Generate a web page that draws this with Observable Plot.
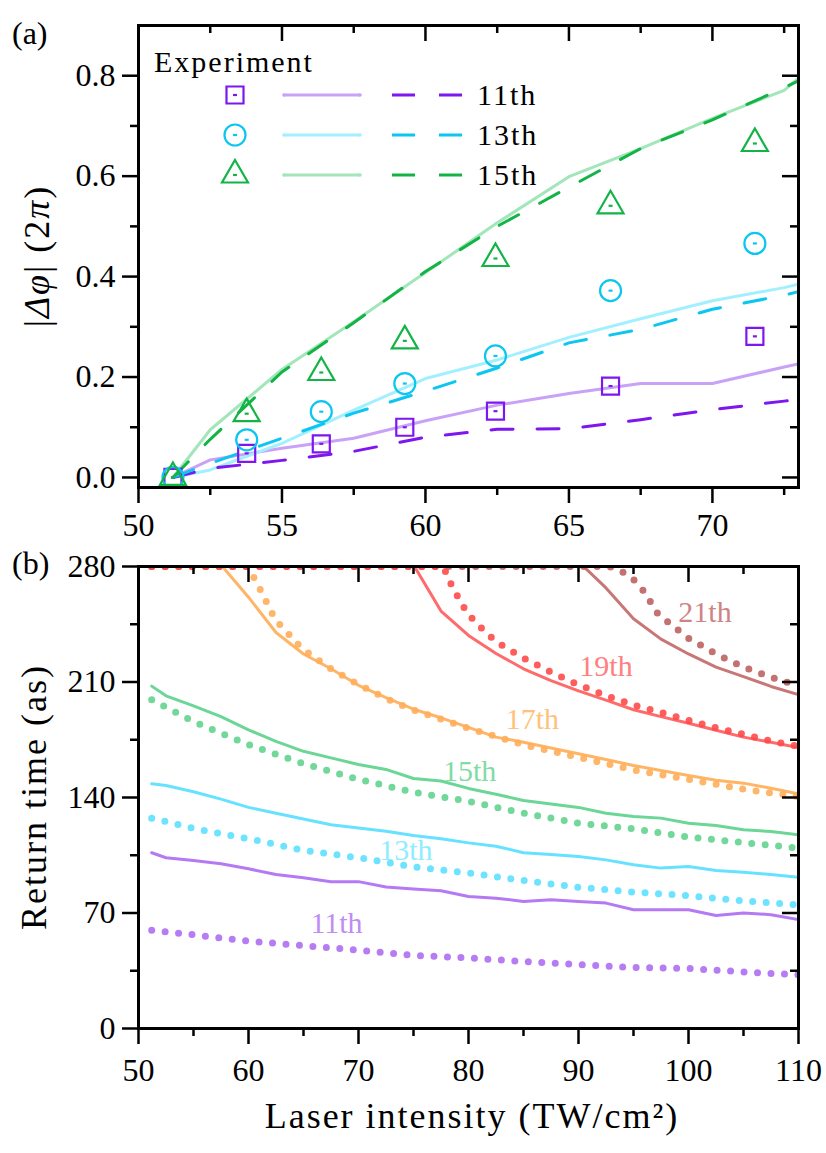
<!DOCTYPE html>
<html>
<head>
<meta charset="utf-8">
<script src="https://cdn.jsdelivr.net/npm/d3@7"></script>
<script src="https://cdn.jsdelivr.net/npm/@observablehq/plot@0.6"></script>
<style>
  html, body { margin: 0; padding: 0; background: #fff; }
  #chart { width: 826px; height: 1153px; position: relative; }
  #chart svg { display: block; }
</style>
</head>
<body>
<div id="chart"></div>
<script>
// ---------------- DATA ----------------
// Panel (a): phase difference |Δφ| (2π) vs laser intensity (TW/cm²)
const harmonicsA = ["11th", "13th", "15th"];
const expIntensity = [51.2, 53.77, 56.37, 59.28, 62.44, 66.45, 71.48];
const exp11 = [0, 0.048, 0.067, 0.100, 0.132, 0.182, 0.281];
const exp13 = [0, 0.075, 0.131, 0.187, 0.242, 0.372, 0.466];
const exp15 = [0, 0.127, 0.209, 0.272, 0.436, 0.541, 0.665];

const thIntensity = [51.2, 52.5, 55, 57.5, 60, 62.5, 65, 67.5, 70, 72.5, 73];
const solid11  = [0, 0.035, 0.058, 0.078, 0.113, 0.144, 0.167, 0.187, 0.187, 0.220, 0.226];
const dashed11 = [0, 0.018, 0.034, 0.052, 0.080, 0.096, 0.097, 0.115, 0.135, 0.152, 0.155];
const solid13  = [0, 0.015, 0.068, 0.134, 0.197, 0.234, 0.279, 0.316, 0.352, 0.378, 0.385];
const dashed13 = [0, 0.028, 0.078, 0.128, 0.172, 0.218, 0.268, 0.295, 0.335, 0.363, 0.370];
const solid15  = [0, 0.095, 0.215, 0.310, 0.408, 0.507, 0.599, 0.655, 0.715, 0.771, 0.795];
const dashed15 = [0, 0.076, 0.210, 0.308, 0.410, 0.500, 0.578, 0.655, 0.712, 0.776, 0.790];

const xTicksA = [50, 55, 60, 65, 70];
const xMinorA = [52.5, 57.5, 62.5, 67.5, 72.5];
const yTicksA = [0, 0.2, 0.4, 0.6, 0.8];
const yMinorA = [0.1, 0.3, 0.5, 0.7];

// Panel (b): return time (as) vs laser intensity (TW/cm²)
const solidI = [51.2, 52.5, 55, 57.5, 60, 62.5, 65, 67.5, 70, 72.5, 75, 77.5, 80, 82.5, 85, 87.5, 90, 92.5, 95, 97.5, 100, 102.5, 105, 107.5, 110];
const rtSolid11 = [106.5, 103.5, 101.8, 99.8, 96.8, 93.3, 91.3, 89, 89, 85.7, 84.5, 83.5, 80, 79, 77, 78, 77, 76, 72, 72, 72, 68.5, 70, 69, 66];
const rtSolid13 = [148.3, 147.3, 143.5, 139, 134, 130.5, 127, 123.5, 121.5, 119.5, 117, 115, 112.5, 110.5, 106.5, 105.5, 104.2, 102.2, 99.2, 97.2, 98.2, 95.8, 94.7, 93.3, 91.7];
const rtSolid15 = [207.5, 201.6, 195.5, 189, 181, 174, 168, 164, 160, 157, 151.5, 150, 145.5, 142, 138.2, 136, 134, 130.5, 128.5, 127.5, 124.4, 123, 120.4, 119.4, 117.4];
const solid17I = [57.5, 60, 62.5, 65, 67.5, 70, 72.5, 75, 77.5, 80, 82.5, 85, 87.5, 90, 92.5, 95, 97.5, 100, 102.5, 105, 107.5, 110];
const rtSolid17 = [281, 261.4, 240, 227, 218, 208, 200.5, 193.5, 188.3, 182.5, 176.6, 173.5, 170, 166.5, 163, 159.4, 156.4, 153.3, 150.5, 148.7, 145.6, 142.2];
const solid19I = [75, 77.5, 80, 82.5, 85, 87.5, 90, 92.5, 95, 97.5, 100, 102.5, 105, 107.5, 110];
const rtSolid19 = [281, 253, 238.2, 227.3, 218, 210.8, 204.6, 199, 193.2, 189, 185, 180.8, 176.6, 173.5, 170.3];
const solid21I = [90, 92.5, 95, 97.5, 100, 102.5, 105, 107.5, 110];
const rtSolid21 = [283, 267, 248.3, 236, 227, 219, 213.3, 207.3, 202.3];

const dotI = [51.2, 55, 60, 65, 70, 75, 80, 85, 90, 95, 100, 105, 110];
const rtDot11 = [59.5, 56.8, 53, 50.2, 47.5, 44.3, 42.8, 40.6, 38.7, 37, 36.4, 34.3, 32.5];
const rtDot13 = [127.5, 121.3, 115, 108, 103.5, 98, 94.3, 89.7, 85.6, 82.7, 80.5, 77.3, 75];
const rtDot15 = [199.2, 186, 172, 160.5, 151, 143.2, 137.7, 130.5, 124.5, 121, 116, 112.7, 109.3];
const dot17I = [51.2, 59.8, 60.3, 61, 62, 62.5, 63.5, 64, 65, 66.2, 67.5, 70, 72.5, 75, 80, 85, 90, 95, 100, 105, 110];
const rtDot17 = [280, 280, 275.6, 267, 253.5, 247, 240.5, 236, 229.7, 224, 218, 208.5, 200, 193, 182, 172, 164.3, 156.7, 151, 145, 140.5];
const dot19I = [51.2, 77.7, 78.5, 79.5, 80.5, 82.5, 85, 87.5, 90, 92.5, 95, 97.5, 100, 102.5, 105, 107.5, 110];
const rtDot19 = [280, 280, 268, 256, 247, 234.5, 224.5, 216, 208.3, 201.8, 196, 191.5, 186.8, 182.3, 178.3, 174.2, 171];
const dot21I = [51.2, 92.8, 94.2, 95.2, 96, 97.2, 98.2, 100, 102.5, 105, 107.5, 110];
const rtDot21 = [280, 280, 276, 271, 264.5, 251.5, 246, 236.5, 227, 219, 213, 207.5];

const harmonicsB = ["11th", "13th", "15th", "17th", "19th", "21th"];
const labelI = [68, 74.3, 80.1, 85.8, 92.5, 101.5];
const labelT = [63.6, 107.9, 155.8, 187.3, 219.4, 252];

const xTicksB = [50, 60, 70, 80, 90, 100, 110];
const xMinorB = [55, 65, 75, 85, 95, 105];
const yTicksB = [0, 70, 140, 210, 280];
const yMinorB = [35, 105, 175, 245];

// ---------------- STYLE ----------------
const FONT = "'Liberation Serif', 'Times New Roman', serif";
const colA = {"11th": "#7e16f0", "13th": "#0bc6f0", "15th": "#12b446"};
const colALight = {"11th": "#c9a2f8", "13th": "#a2f0ff", "15th": "#a2e6ba"};
const colB = {"11th": "#b47af4", "13th": "#66e2ff", "15th": "#6bd696", "17th": "#ffb566", "19th": "#ff6a6a", "21th": "#c87676"};
const colBDot = {"11th": "#ad6ef2", "13th": "#5ee0ff", "15th": "#62d48e", "17th": "#ffae5a", "19th": "#ff4a4a", "21th": "#bd6262"};
const colBLabel = {"11th": "#bf8cf5", "13th": "#90ecff", "15th": "#7fdca4", "17th": "#ffc27e", "19th": "#ff8080", "21th": "#cf8484"};

const W = 826, ML = 138, MR = 28;
const FW = W - ML - MR; // 660
const dashSym = {draw(ctx) { ctx.moveTo(-2, -1.1); ctx.lineTo(2, -1.1); ctx.lineTo(2, 1.1); ctx.lineTo(-2, 1.1); ctx.closePath(); }};

// ---------------- PANEL (a) ----------------
const rowsA = thIntensity.map((I, i) => ({I, s11: solid11[i], d11: dashed11[i], s13: solid13[i], d13: dashed13[i], s15: solid15[i], d15: dashed15[i]}));
const expRows = expIntensity.map((I, i) => ({I, e11: exp11[i], e13: exp13[i], e15: exp15[i]}));

const HA = 545, MTA = 25, MBA = 58;
const FHA = HA - MTA - MBA;

function frameAxes(xT, xM, yT, yM, fh, padX, yFmt) {
  return [
    Plot.axisX({ticks: xT, tickSize: 16, tickPadding: padX, strokeWidth: 2.5, label: null, tickFormat: d => String(d)}),
    Plot.axisX({ticks: xM, tickSize: 8, strokeWidth: 2.5, label: null, tickFormat: () => ""}),
    Plot.axisY({ticks: yT, tickSize: 16, tickPadding: 7, strokeWidth: 2.5, label: null, tickFormat: yFmt}),
    Plot.axisY({ticks: yM, tickSize: 8, strokeWidth: 2.5, label: null, tickFormat: () => ""}),
    Plot.tickX(xT, {x: d => d, insetBottom: fh - 16, strokeWidth: 2.5}),
    Plot.tickX(xM, {x: d => d, insetBottom: fh - 8, strokeWidth: 2.5}),
    Plot.tickY(yT, {y: d => d, insetLeft: FW - 16, strokeWidth: 2.5}),
    Plot.tickY(yM, {y: d => d, insetLeft: FW - 8, strokeWidth: 2.5}),
    Plot.frame({strokeWidth: 3})
  ];
}

const symR = {"11th": 9.6, "13th": 10.5, "15th": 9.65};
const symName = {"11th": "square", "13th": "circle", "15th": "triangle"};
const expKey = {"11th": "e11", "13th": "e13", "15th": "e15"};

const plotA = Plot.plot({
  width: W, height: HA,
  marginLeft: ML, marginRight: MR, marginTop: MTA, marginBottom: MBA,
  style: {fontFamily: FONT, fontSize: "32px", color: "black", background: "white", overflow: "visible"},
  x: {domain: [50, 73], label: null},
  y: {domain: [-0.02, 0.9], label: null},
  marks: [
    Plot.line(rowsA, {x: "I", y: "s11", stroke: colALight["11th"], strokeWidth: 3, clip: true}),
    Plot.line(rowsA, {x: "I", y: "s13", stroke: colALight["13th"], strokeWidth: 3, clip: true}),
    Plot.line(rowsA, {x: "I", y: "s15", stroke: colALight["15th"], strokeWidth: 3, clip: true}),
    Plot.line(rowsA, {x: "I", y: "d11", stroke: colA["11th"], strokeWidth: 3, strokeDasharray: "22,24", clip: true}),
    Plot.line(rowsA, {x: "I", y: "d13", stroke: colA["13th"], strokeWidth: 3, strokeDasharray: "22,24", clip: true}),
    Plot.line(rowsA, {x: "I", y: "d15", stroke: colA["15th"], strokeWidth: 3, strokeDasharray: "22,24", clip: true}),
    ...harmonicsA.flatMap(h => [
      Plot.dot(expRows, {x: "I", y: expKey[h], symbol: symName[h], r: symR[h], stroke: colA[h], strokeWidth: 2.2, fill: "none"}),
      Plot.dot(expRows, {x: "I", y: expKey[h], symbol: dashSym, r: 2, fill: colA[h], stroke: "none"})
    ]),
    ...frameAxes(xTicksA, xMinorA, yTicksA, yMinorA, FHA, 10, d3.format(".1f"))
  ]
});

// ---------------- PANEL (b) ----------------
const HB = 608, MTB = 21, MBB = 125;
const FHB = HB - MTB - MBB;

const solidRows = [
  ...solidI.map((I, i) => ({h: "11th", I, T: rtSolid11[i]})),
  ...solidI.map((I, i) => ({h: "13th", I, T: rtSolid13[i]})),
  ...solidI.map((I, i) => ({h: "15th", I, T: rtSolid15[i]})),
  ...solid17I.map((I, i) => ({h: "17th", I, T: rtSolid17[i]})),
  ...solid19I.map((I, i) => ({h: "19th", I, T: rtSolid19[i]})),
  ...solid21I.map((I, i) => ({h: "21th", I, T: rtSolid21[i]}))
];
const dotSeries = [
  ["11th", dotI, rtDot11], ["13th", dotI, rtDot13], ["15th", dotI, rtDot15],
  ["17th", dot17I, rtDot17], ["21th", dot21I, rtDot21], ["19th", dot19I, rtDot19]
];
const labelRows = harmonicsB.map((h, i) => ({h, I: labelI[i], T: labelT[i]}));

const plotB = Plot.plot({
  width: W, height: HB,
  marginLeft: ML, marginRight: MR, marginTop: MTB, marginBottom: MBB,
  style: {fontFamily: FONT, fontSize: "32px", color: "black", background: "white", overflow: "visible"},
  x: {domain: [50, 110], label: null},
  y: {domain: [0, 280], label: null},
  marks: [
    ...harmonicsB.map(h => Plot.line(solidRows.filter(d => d.h === h), {x: "I", y: "T", stroke: colB[h], strokeWidth: 3, clip: true})),
    ...dotSeries.map(([h, xs, ys]) => Plot.line(xs.map((I, i) => ({I, T: ys[i]})), {
      x: "I", y: "T", stroke: colBDot[h], strokeWidth: 7, strokeDasharray: "0,13.5",
      strokeLinecap: "round", strokeOpacity: 0.9, clip: true
    })),
    Plot.text(labelRows, {x: "I", y: "T", text: "h", fill: d => colBLabel[d.h], fontSize: 30, textAnchor: "middle", style: "letter-spacing: 2px"}),
    ...frameAxes(xTicksB, xMinorB, yTicksB, yMinorB, FHB, 14, d => String(d))
  ]
});

const chart = document.getElementById("chart");
chart.appendChild(plotA);
chart.appendChild(plotB);

// ---------------- EXTRA TEXT & LEGEND ----------------
const sA = d3.select(plotA);
const sB = d3.select(plotB);

// panel letters
sA.append("text").attr("x", 12).attr("y", 44).attr("text-anchor", "start")
  .attr("font-family", FONT).attr("font-size", 32).text("(a)");
sB.append("text").attr("x", 12).attr("y", 29).attr("text-anchor", "start")
  .attr("font-family", FONT).attr("font-size", 32).text("(b)");

// y label (a)
const yla = sA.append("text")
  .attr("transform", `translate(36,${MTA + FHA / 2}) rotate(-90)`)
  .attr("text-anchor", "middle").attr("dy", "0.35em")
  .attr("font-family", FONT).attr("font-size", 36)
  .style("letter-spacing", "2px");
yla.append("tspan").text("|");
yla.append("tspan").attr("font-style", "italic").text("Δφ");
yla.append("tspan").text("| (2");
yla.append("tspan").attr("font-style", "italic").text("π");
yla.append("tspan").text(")");

// y label (b)
sB.append("text")
  .attr("transform", `translate(33,${MTB + FHB / 2}) rotate(-90)`)
  .attr("text-anchor", "middle").attr("dy", "0.35em")
  .attr("font-family", FONT).attr("font-size", 36)
  .style("letter-spacing", "2px")
  .text("Return time (as)");

// x label (b)
sB.append("text")
  .attr("x", 472).attr("y", 583)
  .attr("text-anchor", "middle")
  .attr("font-family", FONT).attr("font-size", 36)
  .style("letter-spacing", "2px")
  .text("Laser intensity (TW/cm²)");

// legend (a)
const lg = sA.append("g").attr("font-family", FONT).attr("font-size", 30)
  .attr("text-anchor", "start").style("letter-spacing", "2px");
lg.append("text").attr("x", 154).attr("y", 72).text("Experiment");
const rowY = [95, 135, 175];
const d3Sym = {"11th": d3.symbolSquare, "13th": d3.symbolCircle, "15th": d3.symbolTriangle};
harmonicsA.forEach((h, i) => {
  const y = rowY[i];
  lg.append("path")
    .attr("transform", `translate(235,${y})`)
    .attr("d", d3.symbol(d3Sym[h], Math.PI * symR[h] * symR[h])())
    .attr("fill", "none").attr("stroke", colA[h]).attr("stroke-width", 2.2);
  lg.append("path")
    .attr("transform", `translate(235,${y})`)
    .attr("d", "M-2,-1.1L2,-1.1L2,1.1L-2,1.1Z")
    .attr("fill", colA[h]);
  lg.append("line").attr("x1", 284).attr("x2", 360).attr("y1", y).attr("y2", y)
    .attr("stroke", colALight[h]).attr("stroke-width", 3);
  lg.append("circle").attr("cx", 284).attr("cy", y).attr("r", 1.8).attr("fill", colALight[h]);
  lg.append("circle").attr("cx", 360).attr("cy", y).attr("r", 1.8).attr("fill", colALight[h]);
  lg.append("line").attr("x1", 392).attr("x2", 462).attr("y1", y).attr("y2", y)
    .attr("stroke", colA[h]).attr("stroke-width", 3).attr("stroke-dasharray", "23,24");
  lg.append("text").attr("x", 477).attr("y", y + 10).text(h);
});
</script>
</body>
</html>
